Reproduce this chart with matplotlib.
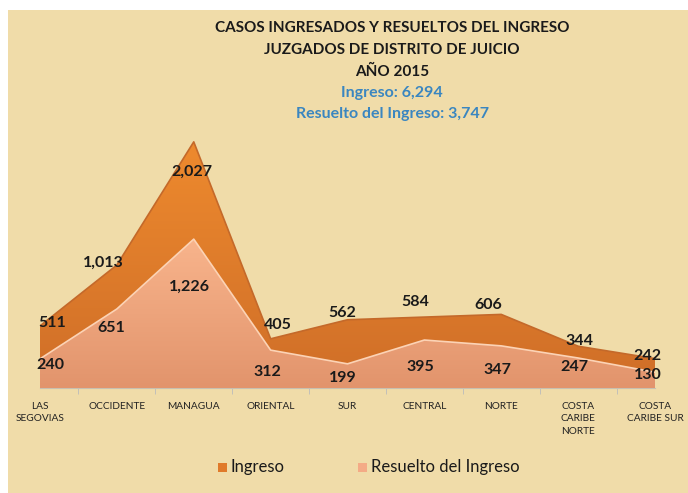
import numpy as np
import matplotlib
matplotlib.use("Agg")
import matplotlib.pyplot as plt
from matplotlib.patches import Rectangle
from matplotlib.colors import LinearSegmentedColormap

# data
categories = ["LAS\nSEGOVIAS", "OCCIDENTE", "MANAGUA", "ORIENTAL", "SUR",
              "CENTRAL", "NORTE", "COSTA\nCARIBE\nNORTE", "COSTA\nCARIBE SUR"]
ingreso = [511, 1013, 2027, 405, 562, 584, 606, 344, 242]
resuelto = [240, 651, 1226, 312, 199, 395, 347, 247, 130]

# label offsets in pixels (layout only)
off_ing = [(12, 3), (-14, 2), (-2, -30), (7, 14), (-5, 7), (-9, 15), (-13, 9), (1, 5), (-8, 3)]
off_res = [(10, -6), (-6, -19), (-4, -48), (-3, -22), (-5, -14), (-4, -27), (-4, -24), (-4, -9), (-7, -3)]

plt.rcParams["font.family"] = ["Lato", "DejaVu Sans"]

W, H = 688, 493
fig = plt.figure(figsize=(W / 100, H / 100), dpi=100)
fig.patch.set_facecolor("white")
fig.patches.append(Rectangle((8 / W, 0), 1 - 8 / W, 1 - 10 / H, transform=fig.transFigure,
                             facecolor="#F0DCA9", edgecolor="none", zorder=-10))

ax = fig.add_axes([40 / W, 1 - 388 / H, (655 - 40) / W, (388 - 133) / H])
ax.set_facecolor("none")
x = np.arange(len(categories))


def gradient_fill(y, top, bottom, edge, z):
    poly = ax.fill_between(x, 0, y, facecolor="none", edgecolor="none", zorder=z)
    cmap = LinearSegmentedColormap.from_list("g", [bottom, top])
    grad = np.linspace(0, 1, 256).reshape(-1, 1)
    im = ax.imshow(grad, cmap=cmap, aspect="auto", origin="lower",
                   extent=[0, len(categories) - 1, 0, max(y)], zorder=z)
    im.set_clip_path(poly.get_paths()[0], transform=ax.transData)
    ax.plot(x, y, color=edge, lw=1.2, zorder=z + 0.1)


gradient_fill(ingreso, "#EE8A2E", "#CF6E28", "#C4692A", 2)
gradient_fill(resuelto, "#F8B48C", "#E2946C", "#FCD3B5", 3)
ax.set_xlim(0, len(categories) - 1)
ax.set_ylim(0, 2100)

for i, v in enumerate(ingreso):
    ax.annotate(f"{v:,}", (x[i], v), xytext=off_ing[i], textcoords="offset pixels",
                ha="center", va="center", fontsize=11.5, fontweight="bold",
                color="#1A1A1A", zorder=5)
for i, v in enumerate(resuelto):
    ax.annotate(f"{v:,}", (x[i], v), xytext=off_res[i], textcoords="offset pixels",
                ha="center", va="center", fontsize=11.5, fontweight="bold",
                color="#1A1A1A", zorder=5)

ax.set_yticks([])
ax.set_xticks(x)
ax.set_xticklabels(categories, fontsize=7.3, color="#222222", va="top", linespacing=1.5)
ax.tick_params(axis="x", length=0, pad=10)
ax.set_xticks(np.arange(0.5, len(categories) - 1, 1), minor=True)
ax.tick_params(axis="x", which="minor", length=4, color="#BBBBBB")
for s in ["top", "left", "right"]:
    ax.spines[s].set_visible(False)
ax.spines["bottom"].set_color("#C8C0B0")

title = ["CASOS INGRESADOS Y RESUELTOS DEL INGRESO", "JUZGADOS DE DISTRITO DE JUICIO", "AÑO 2015"]
for k, t in enumerate(title):
    fig.text(392 / W, 1 - (28 + 22 * k) / H, t, ha="center", va="center",
             fontsize=11, fontweight="bold", color="#1A1A1A")
fig.text(392 / W, 1 - 93 / H, f"Ingreso: {sum(ingreso):,}", ha="center", va="center",
         fontsize=11.5, fontweight="bold", color="#3A86C0")
fig.text(392 / W, 1 - 114 / H, f"Resuelto del Ingreso: {sum(resuelto):,}", ha="center",
         va="center", fontsize=11.5, fontweight="bold", color="#3A86C0")

# legend
fig.patches.append(Rectangle((218 / W, 1 - 472 / H), 9 / W, 9 / H, transform=fig.transFigure,
                             facecolor="#E07A2A", edgecolor="none"))
fig.text(230 / W, 1 - 467 / H, "Ingreso", ha="left", va="center", fontsize=12, color="#1A1A1A")
fig.patches.append(Rectangle((358 / W, 1 - 472 / H), 9 / W, 9 / H, transform=fig.transFigure,
                             facecolor="#F4AB86", edgecolor="none"))
fig.text(371 / W, 1 - 467 / H, "Resuelto del Ingreso", ha="left", va="center",
         fontsize=12, color="#1A1A1A")

fig.savefig("out.png", dpi=100)
